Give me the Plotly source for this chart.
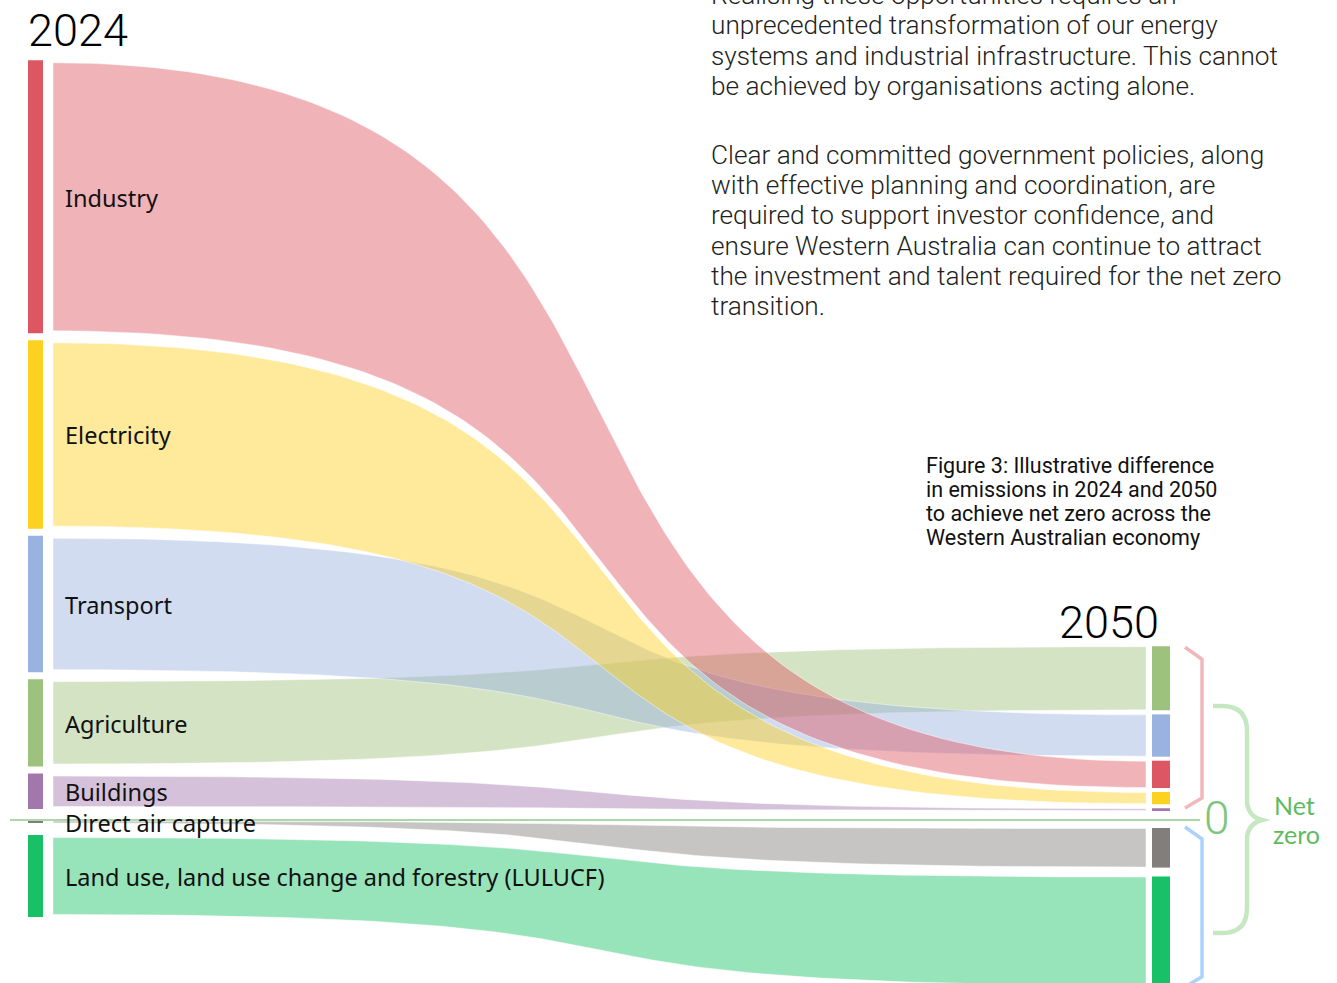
import plotly.graph_objects as go
import numpy as np

# ---------------- data ----------------
categories = ["Industry", "Electricity", "Transport", "Agriculture", "Buildings",
              "Direct air capture", "Land use, land use change and forestry (LULUCF)"]
emissions_2024 = [100, 69, 50, 32, 13, 0, -30]
emissions_2050 = [10, 4.5, 15.5, 23.5, 1, -14.5, -40]
order_2024 = ["Industry", "Electricity", "Transport", "Agriculture", "Buildings",
              "Direct air capture", "Land use, land use change and forestry (LULUCF)"]
order_2050 = ["Agriculture", "Transport", "Industry", "Electricity", "Buildings",
              "Direct air capture", "Land use, land use change and forestry (LULUCF)"]
bar_colors = ["#DC5761", "#FDD11F", "#9AB2E0", "#9DC27D", "#A277AC", "#827E7C", "#19C166"]
year_labels = ["2024", "2050"]
zero_label = "0"
net_zero_label = ["Net", "zero"]
body_text = [
    ["Realising these opportunities requires an",
     "unprecedented transformation of our energy",
     "systems and industrial infrastructure. This cannot",
     "be achieved by organisations acting alone."],
    ["Clear and committed government policies, along",
     "with effective planning and coordination, are",
     "required to support investor confidence, and",
     "ensure Western Australia can continue to attract",
     "the investment and talent required for the net zero",
     "transition."],
]
caption = ["Figure 3: Illustrative difference",
           "in emissions in 2024 and 2050",
           "to achieve net zero across the",
           "Western Australian economy"]

# ---------------- layout constants (pixels) ----------------
W, H = 1337, 983
S = 2.73          # px per unit
Y0 = 820          # zero line
XL0, XL1 = 28, 43       # left bars
XR0, XR1 = 1152, 1170   # right bars
FX0, FX1 = 53, 1146     # flow ends
K = 0.68                # bezier control fraction


def stack(values, order, gap_pos, off_pos, off_neg, gap_neg, min_h):
    vals = dict(zip(categories, values))
    pos = {}
    bottom = Y0 - off_pos
    for c in reversed([c for c in order if vals[c] > 0]):
        top = bottom - vals[c] * S
        pos[c] = (top, bottom)
        bottom = top - gap_pos
    top = Y0 + off_neg
    for c in [c for c in order if vals[c] <= 0]:
        h = max(-vals[c] * S, min_h)
        pos[c] = (top, top + h)
        top = top + h + gap_neg
    return pos


left = stack(emissions_2024, order_2024, 7, 11, 1, 12, 2)
right = stack(emissions_2050, order_2050, 4, 9, 8, 9, 2)


def bez(p0, p3, t):
    x1 = FX0 + K * (FX1 - FX0)
    x2 = FX1 - K * (FX1 - FX0)
    a, b, c, d = (1 - t) ** 3, 3 * (1 - t) ** 2 * t, 3 * (1 - t) * t ** 2, t ** 3
    x = a * FX0 + b * x1 + c * x2 + d * FX1
    y = (a + b) * p0 + (c + d) * p3
    return x, y


def rgba(hexc, a):
    h = hexc.lstrip("#")
    return "rgba(%d,%d,%d,%.2f)" % (int(h[0:2], 16), int(h[2:4], 16), int(h[4:6], 16), a)


fig = go.Figure()
t = np.linspace(0, 1, 120)

draw_order = [6, 5, 4, 3, 2, 1, 0]
for i in draw_order:
    c = categories[i]
    lt, lb = left[c]
    rt, rb = right[c]
    if lb - lt > 6:
        lt2, lb2 = lt + 2.5, lb - 2.5
    else:
        lt2, lb2 = lt, lb
    rt2, rb2 = rt + 0.5, rb - 0.5
    xt, yt = bez(lt2, rt2, t)
    xb, yb = bez(lb2, rb2, t)
    xs = np.concatenate([xt, xb[::-1], [xt[0]]])
    ys = np.concatenate([yt, yb[::-1], [yt[0]]])
    fig.add_trace(go.Scatter(x=xs, y=ys, mode="lines", fill="toself",
                             fillcolor=rgba(bar_colors[i], 0.45),
                             line=dict(width=0.8, color="rgba(255,255,255,0.6)"),
                             hoverinfo="skip", showlegend=False))

# bars
for i, c in enumerate(categories):
    for pos, x0, x1 in ((left, XL0, XL1), (right, XR0, XR1)):
        top, bot = pos[c]
        fig.add_trace(go.Scatter(x=[x0, x1, x1, x0, x0], y=[top, top, bot, bot, top],
                                 mode="lines", fill="toself", fillcolor=bar_colors[i],
                                 line=dict(width=0), hoverinfo="skip", showlegend=False))

vals50 = dict(zip(categories, emissions_2050))
shapes = []
# zero line
shapes.append(dict(type="line", x0=10, x1=1200, y0=Y0, y1=Y0, xref="x", yref="y",
                   line=dict(color="#8FCB8A", width=1.5)))
# pink bracket (positive 2050)
ptop = min(v[0] for k, v in right.items() if vals50[k] > 0) + 1
pbot = max(v[1] for k, v in right.items() if vals50[k] > 0) - 3
shapes.append(dict(type="path", xref="x", yref="y",
                   path=f"M 1185,{ptop} L 1202,{ptop+12} L 1202,{pbot-10} L 1185,{pbot}",
                   line=dict(color="#F1B8BC", width=3.5)))
# blue bracket (negative 2050)
btop = min(v[0] for k, v in right.items() if vals50[k] <= 0) - 1
bbot = max(v[1] for k, v in right.items() if vals50[k] <= 0) + 1
shapes.append(dict(type="path", xref="x", yref="y",
                   path=f"M 1185,{btop} L 1202,{btop+12} L 1202,{bbot-10} L 1185,{bbot}",
                   line=dict(color="#A9D3FA", width=3.5)))
# green brace (net zero)
gt, gb = Y0 - 114, Y0 + 113
shapes.append(dict(type="path", xref="x", yref="y",
                   path=(f"M 1213,{gt} L 1222,{gt} Q 1247,{gt} 1247,{gt+25} L 1247,{Y0-20} "
                         f"Q 1247,{Y0-4} 1262,{Y0} Q 1247,{Y0+4} 1247,{Y0+20} L 1247,{gb-25} "
                         f"Q 1247,{gb} 1222,{gb} L 1213,{gb}"),
                   line=dict(color="#C5E7C2", width=4.5)))

ann = []
# category labels
for i, c in enumerate(categories):
    top, bot = left[c]
    ann.append(dict(x=63, y=(top + bot) / 2 + 1, text=c, xanchor="left", yanchor="middle",
                    showarrow=False, font=dict(family="Noto Sans", size=23.5, color="#111111")))
# years
ann.append(dict(x=26, y=30, text=year_labels[0], xanchor="left", yanchor="middle", showarrow=False,
                font=dict(family="Roboto", size=45, weight=300, color="#000000")))
ann.append(dict(x=1161, y=622, text=year_labels[1], xanchor="right", yanchor="middle", showarrow=False,
                font=dict(family="Roboto", size=45, weight=300, color="#000000")))
# zero and net zero
ann.append(dict(x=1217, y=Y0 - 2, text=zero_label, xanchor="center", yanchor="middle", showarrow=False,
                font=dict(family="Roboto", size=46, weight=300, color="#7DC57A")))
ann.append(dict(x=1272, y=805, text=net_zero_label[0], xanchor="left", yanchor="middle", showarrow=False,
                font=dict(family="Lato", size=25, color="#5DBB60")))
ann.append(dict(x=1271, y=834, text=net_zero_label[1], xanchor="left", yanchor="middle", showarrow=False,
                font=dict(family="Lato", size=25, color="#5DBB60")))
# body text
LS = 30.3
y = -5
for p, para in enumerate(body_text):
    if p > 0:
        y += LS * 1.27
    for j, line in enumerate(para):
        yy = max(y, 1)
        ann.append(dict(x=709, y=yy, yshift=(yy - y), text=line, xanchor="left", yanchor="middle",
                        showarrow=False,
                        font=dict(family="Roboto", size=26.2, weight=300, color="#231F20")))
        y += LS
# caption
for j, line in enumerate(caption):
    ann.append(dict(x=924, y=465 + 24 * j, text=line, xanchor="left", yanchor="middle", showarrow=False,
                    font=dict(family="Roboto", size=21.5, color="#111111")))

fig.update_layout(
    width=W, height=H, margin=dict(l=0, r=0, t=0, b=0),
    paper_bgcolor="white", plot_bgcolor="white",
    xaxis=dict(range=[0, W], visible=False, fixedrange=True),
    yaxis=dict(range=[H, 0], visible=False, fixedrange=True),
    shapes=shapes, annotations=ann, showlegend=False,
)
fig.write_html("out.html", post_script="document.body.style.margin='0';document.body.style.overflow='hidden';",
               config={"displayModeBar": False})
